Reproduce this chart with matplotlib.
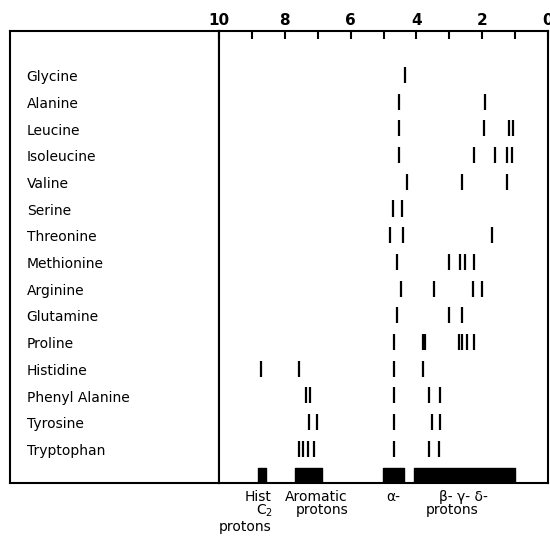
import matplotlib
matplotlib.use("Agg")
import matplotlib.pyplot as plt

# amino acids, top to bottom
names = ["Glycine", "Alanine", "Leucine", "Isoleucine", "Valine", "Serine",
         "Threonine", "Methionine", "Arginine", "Glutamine", "Proline",
         "Histidine", "Phenyl Alanine", "Tyrosine", "Tryptophan"]

# chemical shifts (ppm) of the resonance lines for each amino acid
shifts = [
    [4.36],
    [4.52, 1.92],
    [4.52, 1.94, 1.20, 1.05],
    [4.52, 2.24, 1.60, 1.26, 1.10],
    [4.29, 2.60, 1.26],
    [4.70, 4.45],
    [4.80, 4.42, 1.69],
    [4.58, 3.00, 2.68, 2.52, 2.26],
    [4.46, 3.48, 2.27, 2.02],
    [4.60, 3.00, 2.60],
    [4.69, 3.81, 3.75, 2.70, 2.60, 2.46, 2.24],
    [8.71, 7.58, 4.69, 3.81],
    [7.36, 7.24, 4.69, 3.61, 3.28],
    [7.26, 7.02, 4.69, 3.54, 3.28],
    [7.57, 7.45, 7.31, 7.11, 4.69, 3.61, 3.30],
]

# summary bands at the bottom: (low ppm, high ppm)
band_lo = [8.56, 6.87, 4.38, 1.01]
band_hi = [8.81, 7.70, 5.02, 4.06]

# labels under the bands
band_labels = [["Hist", "C$_2$", "protons"], ["Aromatic", "protons"],
               ["α-"], ["β- γ- δ-", "protons"]]
band_label_x = [[8.82, 8.62, 9.21], [7.06, 6.88], [4.70], [2.58, 2.91]]

fig = plt.figure(figsize=(5.5, 5.43), dpi=100)

top = 1 - 31 / 543
bottom = 1 - 483 / 543

# left box with names
axl = fig.add_axes([10 / 550, bottom, 209 / 550, top - bottom])
axl.set_xticks([])
axl.set_yticks([])
for s in axl.spines.values():
    s.set_linewidth(1.5)

ax = fig.add_axes([219 / 550, bottom, 329 / 550, top - bottom])
row_top = (31 - 75) / 26.7
row_bot = (483 - 75) / 26.7
ax.set_xlim(10, 0)
ax.set_ylim(row_bot, row_top)
axl.set_ylim(row_bot, row_top)
axl.set_xlim(0, 1)
for s in ax.spines.values():
    s.set_linewidth(1.5)

for i, name in enumerate(names):
    axl.text(0.08, i + 0.08, name, fontsize=10, va="center", ha="left")
    ax.vlines(shifts[i], i - 0.3, i + 0.3, color="black", linewidth=1.6)

for lo, hi in zip(band_lo, band_hi):
    ax.broken_barh([(lo, hi - lo)], (14.72, row_bot - 14.72), color="black")

ax.set_xticks([10, 8, 6, 4, 2, 0])
ax.set_xticks([9, 7, 5, 3, 1], minor=True)
ax.tick_params(axis="x", which="both", top=True, bottom=False,
               labeltop=True, labelbottom=False, direction="in",
               length=6, width=1.5, pad=2)
ax.set_xticklabels(["10", "8", "6", "4", "2", "0"], fontsize=11,
                   fontweight="bold")
ax.set_yticks([])

row_y = [(497 - 75) / 26.7, (511 - 75) / 26.7, (527 - 75) / 26.7]
for labels, xs in zip(band_labels, band_label_x):
    for j, (lab, xv) in enumerate(zip(labels, xs)):
        yv = row_y[j]
        if len(labels) == 2 and j == 1:
            yv = (510 - 75) / 26.7
        ax.text(xv, yv, lab, fontsize=10, ha="center", va="center",
                clip_on=False)

fig.savefig("out.png", dpi=100)
